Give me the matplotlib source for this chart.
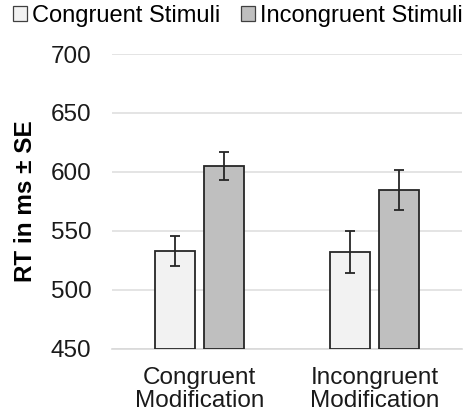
import matplotlib
matplotlib.use("Agg")
import matplotlib.pyplot as plt
import numpy as np
from matplotlib.patches import Patch

categories = ["Congruent\nModification", "Incongruent\nModification"]
series_names = ["Congruent Stimuli", "Incongruent Stimuli"]
congruent_vals = [533, 532]
congruent_se = [13, 18]
incongruent_vals = [605, 585]
incongruent_se = [12, 17]
yticks = [450, 500, 550, 600, 650, 700]

plt.rcParams['font.family'] = ['Liberation Sans', 'DejaVu Sans']

fig = plt.figure(figsize=(4.73, 4.17), dpi=100)
ax = fig.add_axes([0.237, 0.1638, 0.74, 0.7067])

x = np.arange(len(categories))
w = 0.226
off = 0.14
colors = ["#F2F2F2", "#BFBFBF"]
edge = "#262626"
for vals, se, sgn, c in [(congruent_vals, congruent_se, -1, colors[0]),
                         (incongruent_vals, incongruent_se, 1, colors[1])]:
    ax.bar(x + sgn * off, np.array(vals) - 450, bottom=450, width=w, color=c,
           edgecolor=edge, linewidth=1.3, zorder=3)
    ax.errorbar(x + sgn * off, vals, yerr=se, fmt='none', ecolor=edge,
                elinewidth=1.3, capsize=3.6, capthick=1.3, zorder=4)

ax.set_xlim(-0.5, 1.5)
ax.set_ylim(450, 700)
ax.set_yticks(yticks)
ax.set_xticks(x)
ax.set_xticklabels(categories)
ax.tick_params(axis='both', length=0, labelsize=17.5, colors='#1a1a1a')
ax.tick_params(axis='y', pad=15)
ax.tick_params(axis='x', pad=13)
for lab in ax.get_xticklabels():
    lab.set_linespacing(1.05)
ax.grid(axis='y', color='#DDDDDD', linewidth=1.1, zorder=0)
for s in ['top', 'right', 'left']:
    ax.spines[s].set_visible(False)
ax.spines['bottom'].set_color('#D9D9D9')
ax.spines['bottom'].set_linewidth(1.2)
ax.set_ylabel("RT in ms ± SE", fontsize=17.5, fontweight='bold', labelpad=10)

handles = [Patch(facecolor=colors[0], edgecolor='#404040', linewidth=0.9),
           Patch(facecolor=colors[1], edgecolor='#404040', linewidth=0.9)]
fig.legend(handles, series_names, loc='center', bbox_to_anchor=(0.503, 0.962),
           ncol=2, frameon=False, fontsize=17, handlelength=0.6, handleheight=0.6,
           handletextpad=0.2, columnspacing=0.9, borderaxespad=0)

fig.savefig("out.png", dpi=100)
